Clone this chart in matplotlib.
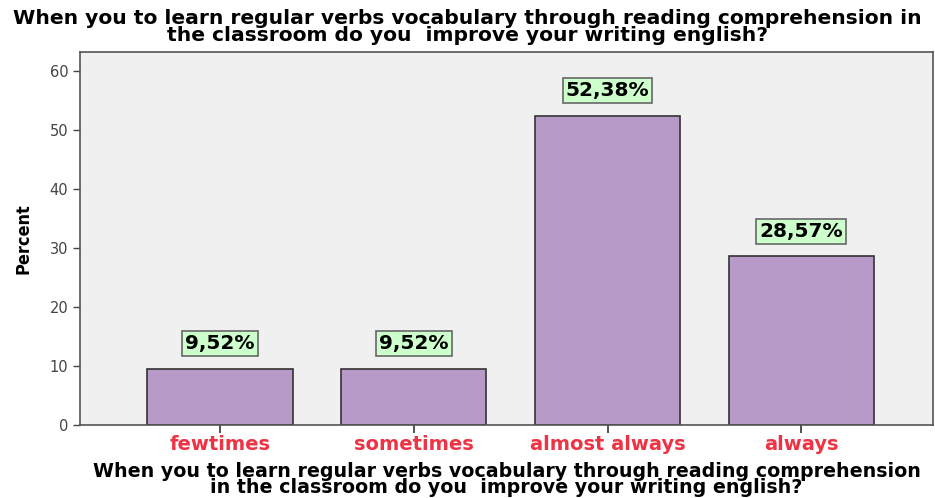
import numpy as np
import matplotlib.pyplot as plt

# datos del grafico
categorias = ['fewtimes', 'sometimes', 'almost always', 'always']
porcentajes = [9.52, 9.52, 52.38, 28.57]
etiquetas = ['9,52%', '9,52%', '52,38%', '28,57%']
yticks = [0, 10, 20, 30, 40, 50, 60]

titulo = ('When you to learn regular verbs vocabulary through reading comprehension in\n'
          'the classroom do you  improve your writing english?')
xlab = ('When you to learn regular verbs vocabulary through reading comprehension\n'
        'in the classroom do you  improve your writing english?')

plt.rcParams['font.family'] = ['DejaVu Sans']

fig = plt.figure(figsize=(9.35, 4.98), dpi=100)
ax = fig.add_axes([80/935, 1-425/498, 853/935, 373/498])
ax.set_facecolor('#f0f0f0')

x = np.arange(len(categorias))
ax.bar(x, porcentajes, width=0.75, color='#b89ac8', edgecolor='#333333', linewidth=1.2, zorder=2)

# etiquetas con caja verde
for xi, v, t in zip(x, porcentajes, etiquetas):
    ax.annotate(t, (xi, v), xytext=(0, 18), textcoords='offset points',
                ha='center', va='center', fontsize=14.5, fontweight='bold',
                bbox=dict(boxstyle='square,pad=0.15', fc='#ccffcc', ec='#666666', lw=1.2))

ax.set_xlim(-0.723, 3.68)
ax.set_ylim(0, 63.2)
ax.set_yticks(yticks)
ax.set_xticks(x)
ax.set_xticklabels(categorias, color='#ee3344', fontsize=14, fontweight='bold')
ax.tick_params(axis='y', labelsize=10.5, labelcolor='#444444', length=5, width=1, color='#444444')
ax.tick_params(axis='x', length=6, width=1.2, color='#333333', pad=1)
for s in ax.spines.values():
    s.set_color('#555555')
    s.set_linewidth(1.2)

ax.set_ylabel('Percent', fontsize=13, fontweight='bold', fontstretch='condensed',
              family='Liberation Sans Narrow', labelpad=12)
ax.set_xlabel(xlab, fontsize=13.7, fontweight='bold', linespacing=0.8, labelpad=6)
fig.text(0.5, 1-27/498, titulo, ha='center', va='center', fontsize=14.6,
         fontweight='bold', linespacing=0.85)

plt.savefig('out.png', dpi=100)
